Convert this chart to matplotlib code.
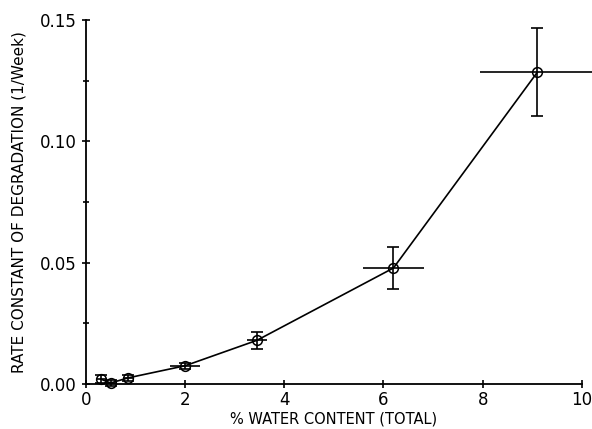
import matplotlib
matplotlib.use("Agg")
import matplotlib.pyplot as plt
from matplotlib.ticker import MultipleLocator

# ========== [DATA] ==========
water = [0.3, 0.5, 0.85, 2.0, 3.45, 6.2, 9.1]
rate = [0.0020, 0.0004, 0.0025, 0.0075, 0.0180, 0.0478, 0.1285]
water_err = [0.1, 0.1, 0.1, 0.3, 0.2, 0.62, 1.15]
rate_err = [0.0015, 0.0012, 0.0012, 0.0012, 0.0035, 0.0086, 0.0182]

# ========== [PLOT] ==========
fig = plt.figure(figsize=(5.92, 4.29), dpi=100)
ax = fig.add_axes([0.145, 0.105, 0.838, 0.848])

# garis penghubung + marker lingkaran kosong
ax.plot(water, rate, '-o', color='black', mfc='none', mec='black', ms=7,
        mew=1.1, lw=1.2, clip_on=False, zorder=3)
# error bar vertikal (dengan cap) dan horizontal (tanpa cap)
ax.errorbar(water, rate, yerr=rate_err, fmt='none', ecolor='black',
            elinewidth=1.2, capsize=4, capthick=1.2, clip_on=False, zorder=3)
ax.errorbar(water, rate, xerr=water_err, fmt='none', ecolor='black',
            elinewidth=1.2, capsize=0, clip_on=False, zorder=3)

ax.set_xlim(0, 10)
ax.set_ylim(0, 0.15)
ax.xaxis.set_major_locator(MultipleLocator(2))
ax.yaxis.set_major_locator(MultipleLocator(0.05))
ax.yaxis.set_minor_locator(MultipleLocator(0.025))
ax.yaxis.set_major_formatter(plt.FuncFormatter(lambda v, p: f"{v:.2f}"))
ax.tick_params(direction='inout', length=6, width=1.2, labelsize=12)
ax.tick_params(axis='x', pad=2)
ax.tick_params(which='minor', direction='inout', length=5, width=1.2)

for s in ['top', 'right']:
    ax.spines[s].set_visible(False)
for s in ['left', 'bottom']:
    ax.spines[s].set_linewidth(1.3)

ax.set_xlabel("% WATER CONTENT (TOTAL)", fontsize=10.5, labelpad=2)
ax.set_ylabel("RATE CONSTANT OF DEGRADATION (1/Week)", fontsize=11, labelpad=10)

plt.savefig("out.png", dpi=100)
